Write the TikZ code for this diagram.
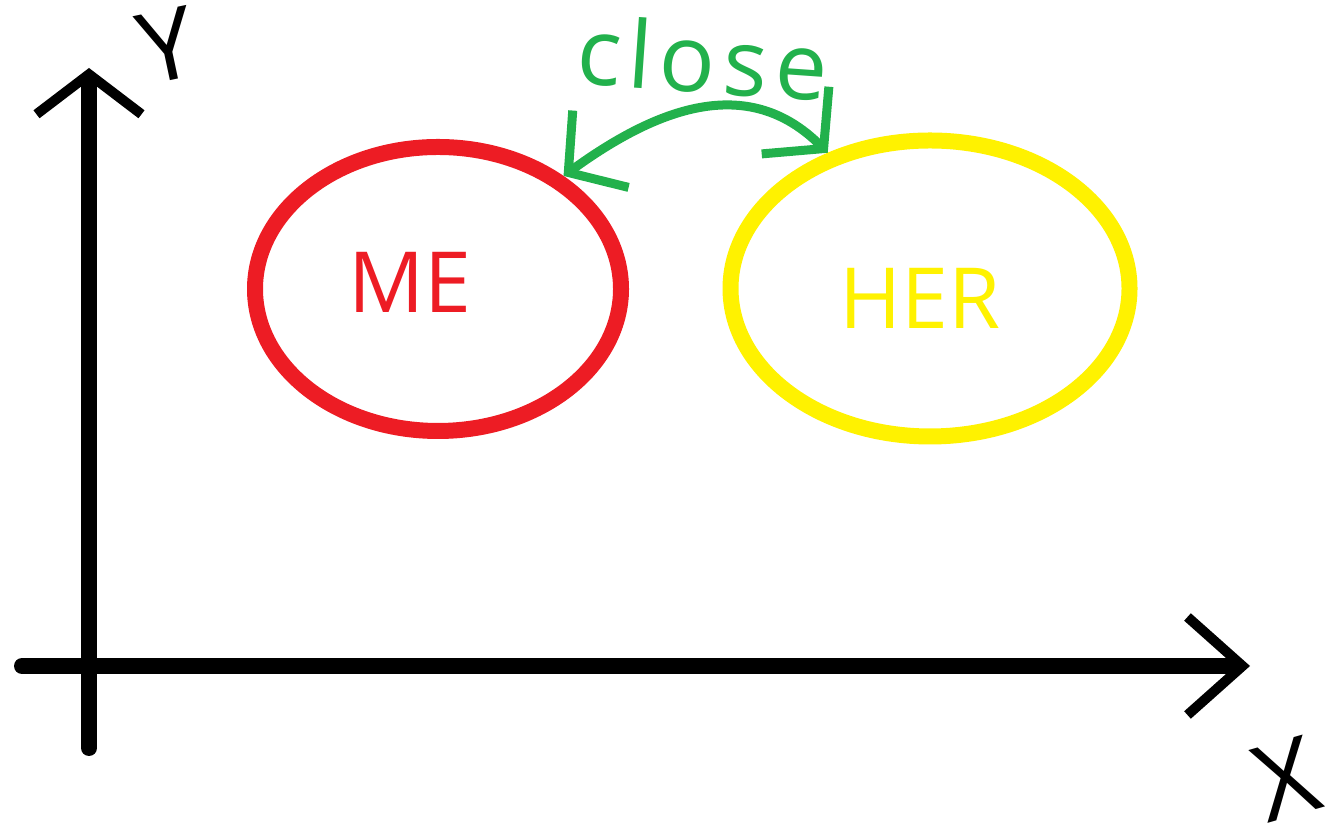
\documentclass[tikz,border=0pt]{standalone}
\usepackage{fontspec}
\setmainfont{Open Sans}
\newfontfamily\scrawl[LetterSpace=8]{Open Sans}
\usetikzlibrary{arrows.meta,shapes.geometric}
\definecolor{paintred}{HTML}{ED1C24}
\definecolor{paintyellow}{HTML}{FFF200}
\definecolor{paintgreen}{HTML}{22B14C}
\tikzset{
  axis/.style={line width=1.6mm, line cap=round},
  blob/.style={ellipse, draw, line width=1.6mm},
}
\begin{document}
\begin{tikzpicture}
    \useasboundingbox (0,0) rectangle (13.37,8.35);
    % axes
    \coordinate (ybot) at (0.89,0.87);
    \coordinate (ytop) at (0.89,7.67);
    \coordinate (xbeg) at (0.22,1.69);
    \coordinate (xend) at (12.50,1.69);
    \draw [axis, -{Straight Barb[length=4mm, width=10.5mm, line width'=1mm]}] (ybot) -- (ytop);
    \draw [axis, -{Straight Barb[length=5.5mm, width=9.8mm, line width'=1mm]}] (xbeg) -- (xend);
    \node at (1.67,7.90) [rotate=12, inner sep=0pt] (ylbl) {\fontsize{28}{28}\selectfont Y};
    \node at (12.86,0.56) [rotate=16, inner sep=0pt] (xlbl) {\fontsize{30}{30}\selectfont X};

    % me and her
    \node [blob, draw=paintred, minimum width=3.66cm, minimum height=2.84cm] (me) at (4.38,5.46) {};
    \node [blob, draw=paintyellow, minimum width=3.99cm, minimum height=2.96cm] (her) at (9.30,5.465) {};
    \node at (4.10,5.53) [text=paintred] (metxt) {\fontsize{24}{24}\selectfont ME};
    \node at (9.20,5.37) [text=paintyellow] (hertxt) {\fontsize{24}{24}\selectfont HER};

    \draw [paintgreen, line width=0.9mm, {Straight Barb[length=4mm, width=9.5mm, line width'=0.9mm]}-{Straight Barb[length=4mm, width=9.5mm, line width'=0.9mm]}]
        (me.42) to[out=36,in=135,looseness=1.1] node[midway,above=0.11cm,inner sep=0pt,rotate=-4] (closelbl) {\scrawl\fontsize{26.5}{26.5}\selectfont close} (her.127);
\end{tikzpicture}
\end{document}
